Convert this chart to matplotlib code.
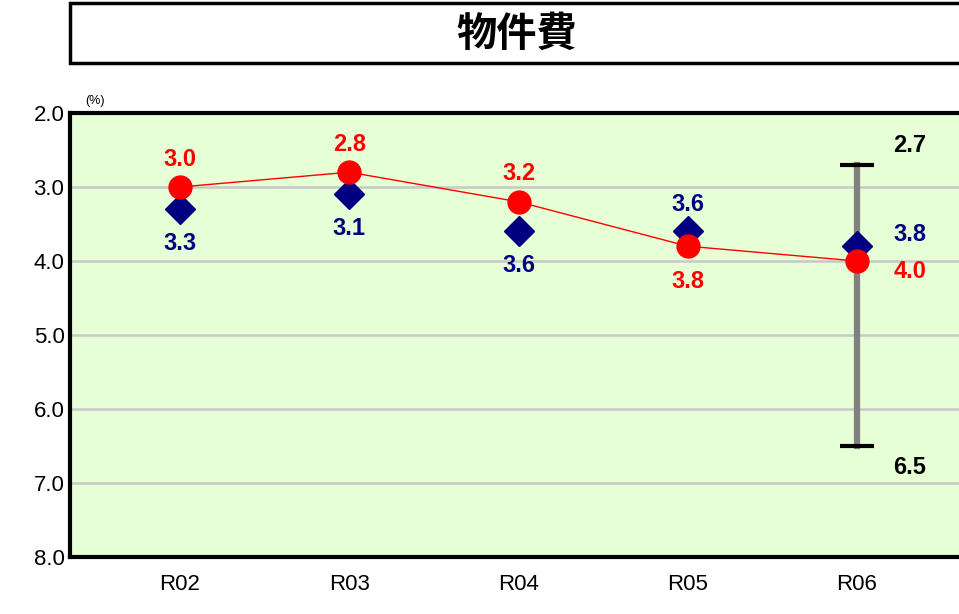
import numpy as np
import matplotlib.pyplot as plt
from matplotlib.patches import Rectangle

years = ["R02", "R03", "R04", "R05", "R06"]
red_vals = [3.0, 2.8, 3.2, 3.8, 4.0]
navy_vals = [3.3, 3.1, 3.6, 3.6, 3.8]
range_lo = 2.7
range_hi = 6.5

plt.rcParams['font.family'] = ['Liberation Sans', 'DejaVu Sans']

fig = plt.figure(figsize=(9.59, 6.14), dpi=100)

# title box (runs off the right edge like the original)
fig.patches.append(Rectangle((70 / 959, 1 - 63 / 614), 0.95, 60 / 614,
                             transform=fig.transFigure, facecolor='white',
                             edgecolor='black', linewidth=2.5))
fig.text(517 / 959, 1 - 34 / 614, "物件費", ha='center', va='center',
         fontsize=29, fontweight='bold', family=['Noto Sans CJK JP', 'DejaVu Sans'])

ax = fig.add_axes([70 / 959, 57 / 614, 1.0, 444 / 614])
ax.set_facecolor('#e6ffd6')

x = np.arange(len(years))
px = 169.25  # pixels per category
# axes is 959 px wide, first category sits 110 px from the left spine
ax.set_xlim(-110 / px, -110 / px + 959 / px)
ax.set_ylim(8.0, 2.0)
ax.set_yticks(np.arange(2, 9, 1))
ax.set_yticklabels([f"{v:.1f}" for v in np.arange(2, 9, 1)], fontsize=16)
ax.set_xticks(x)
ax.set_xticklabels(years, fontsize=16)
ax.tick_params(length=0, pad=4)
ax.tick_params(axis='x', pad=12)

for v in range(3, 8):
    ax.axhline(v, color='#c8c8c8', linewidth=1.8, zorder=1)

for side in ['left', 'bottom', 'top']:
    ax.spines[side].set_linewidth(3)
    ax.spines[side].set_color('black')
ax.spines['right'].set_visible(False)

# range bar for R06
ax.plot([x[-1], x[-1]], [range_lo, range_hi], color='#808080', linewidth=4.5, zorder=2)
for v in (range_lo, range_hi):
    ax.plot([x[-1] - 0.1, x[-1] + 0.1], [v, v], color='black', linewidth=3, zorder=2,
            solid_capstyle='butt')

ax.plot(x, navy_vals, linestyle='none', marker='D', markersize=15.5,
        color='#000080', zorder=3)
ax.plot(x, red_vals, color='red', linewidth=1, marker='o', markersize=16.5,
        markerfacecolor='red', markeredgecolor='red', zorder=4)

lab = dict(fontsize=17, fontweight='bold', ha='center', va='center',
           textcoords='offset pixels')
for i in range(3):
    ax.annotate(f"{red_vals[i]:.1f}", (x[i], red_vals[i]), xytext=(0, 28), color='red', **lab)
    ax.annotate(f"{navy_vals[i]:.1f}", (x[i], navy_vals[i]), xytext=(0, -34), color='#000080', **lab)
ax.annotate(f"{navy_vals[3]:.1f}", (x[3], navy_vals[3]), xytext=(0, 27), color='#000080', **lab)
ax.annotate(f"{red_vals[3]:.1f}", (x[3], red_vals[3]), xytext=(0, -35), color='red', **lab)
ax.annotate(f"{navy_vals[4]:.1f}", (x[4], navy_vals[4]), xytext=(53, 12), color='#000080', **lab)
ax.annotate(f"{red_vals[4]:.1f}", (x[4], red_vals[4]), xytext=(53, -10), color='red', **lab)
ax.annotate(f"{range_lo:.1f}", (x[4], range_lo), xytext=(53, 19), color='black', **lab)
ax.annotate(f"{range_hi:.1f}", (x[4], range_hi), xytext=(53, -21), color='black', **lab)

fig.text(95 / 959, 1 - 101 / 614, "(%)", ha='center', va='center', fontsize=9)

fig.savefig("out.png", dpi=100)
